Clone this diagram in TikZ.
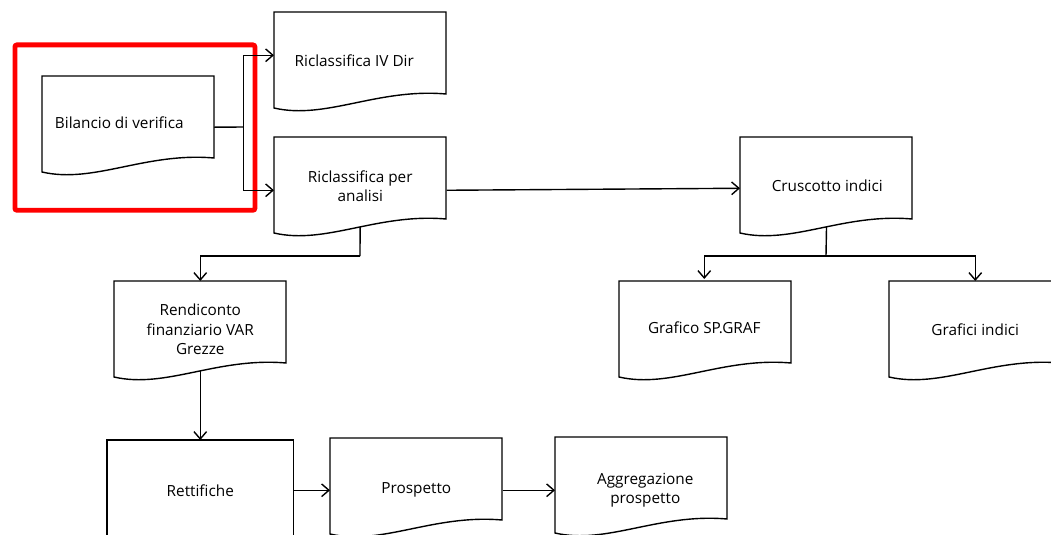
\documentclass[tikz,border=0pt]{standalone}
\usepackage{fontspec}
\setmainfont{Open Sans}
\usetikzlibrary{arrows.meta,calc}
\pgfdeclarelayer{bg}
\pgfdeclarelayer{mid}
\pgfsetlayers{bg,mid,main}
\tikzset{
  docnode/.style={shape=rectangle, inner sep=0pt, anchor=north west,
    minimum width=129pt, minimum height=72pt, align=center,
    font=\fontsize{11.5}{14.6}\selectfont},
  procnode/.style={docnode, minimum width=139.5pt, minimum height=75pt},
  outline/.style={draw=black, line width=1.05pt, fill=white},
  line/.style={draw=black, line width=1.05pt},
  arr/.style={line, -{Straight Barb[length=5.5pt,width=9.5pt,line width=1.05pt]}},
  frame/.style={draw=red, line width=3.6pt, rounded corners=1.5pt, inner sep=0pt,
    anchor=north west, minimum width=180pt, minimum height=124pt}
}
% #1 node name, #2/#3 text offset (dx,dy) of the node from the shape
\newcommand\docoutline[3]{%
  \draw[outline, shift={($(#1.north west)-(#2,#3)$)}] (0,0) -- (0,96)
    .. controls (52,108) and (103,76) .. (172,82) -- (172,0) -- cycle;}
\begin{document}
\begin{tikzpicture}[x=0.75pt, y=-0.75pt]
\useasboundingbox (0,0) rectangle (1051,535);
\clip (0,0) rectangle (1051,535);
% nodes (text)
\node[docnode] (bil) at (33,74) {Bilancio di verifica};
\node[docnode] (iv)  at (268,12) {Riclassifica IV Dir};
\node[docnode] (ana) at (274,138) {Riclassifica per\\analisi};
\node[docnode] (cru) at (741,137) {Cruscotto indici};
\node[docnode] (gsp) at (618,279) {Grafico SP.GRAF};
\node[docnode] (gin) at (889,281) {Grafici indici};
\node[docnode] (ren) at (114,281) {Rendiconto\\finanziario VAR\\Grezze};
\node[procnode] (ret) at (107,440) {Rettifiche};
\node[docnode] (pro) at (330,442) {Prospetto};
\node[docnode] (agg) at (559,442) {Aggregazione\\prospetto};
% highlight frame
\begin{pgfonlayer}{bg}
\node[frame] (sel) at (12.5,42.5) {};
% connectors
\coordinate (j) at (243.5,127);
\draw[line] ([yshift=-3.75pt]bil.east) -- (j);
\draw[arr] (j) |- ([xshift=4.5pt,yshift=3.75pt]iv.west);
\draw[arr] (j) |- ([yshift=-3pt]ana.west);
\draw[arr] ([yshift=-3pt]ana.east) -- ([xshift=-0.75pt,yshift=-2.25pt]cru.west);
\coordinate (k) at (826,256);
\draw[line] (cru.center) -- (k);
\draw[arr] (k) -| (gsp.north);
\draw[arr] (k) -| (gin.north);
\coordinate (m) at (360,256);
\draw[line] (ana.center) -- (m);
\draw[arr] (m) -| (ren.north);
\draw[arr] (ren.center) -- (ret.north);
\draw[arr] (ret.east) -- (pro.west);
\draw[arr] (pro.east) -- ([xshift=-3pt]agg.west);
\end{pgfonlayer}
% shapes
\begin{pgfonlayer}{mid}
\docoutline{bil}{-9}{-2}
\docoutline{iv}{-6}{0}
\docoutline{ana}{0}{1}
\docoutline{cru}{1}{0}
\docoutline{gsp}{-1}{-2}
\docoutline{gin}{0}{0}
\docoutline{ren}{0}{0}
\docoutline{pro}{0}{4}
\docoutline{agg}{4}{5}
\draw[outline] (ret.north west) rectangle (ret.south east);
\end{pgfonlayer}
\end{tikzpicture}
\end{document}
